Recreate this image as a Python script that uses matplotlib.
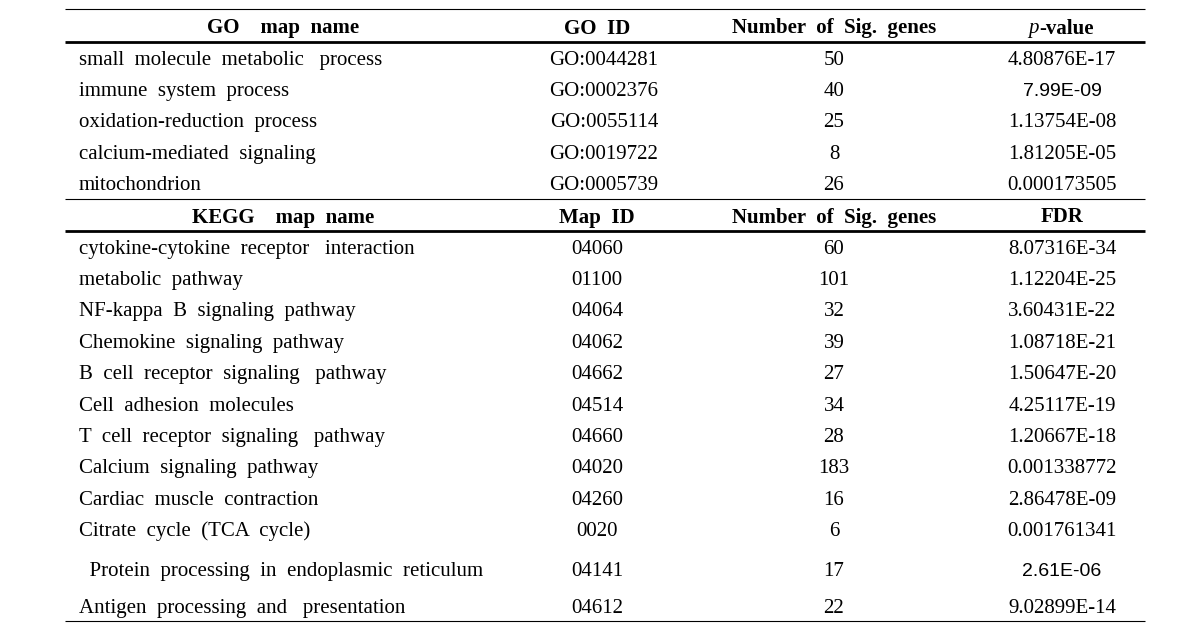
import matplotlib
matplotlib.use('Agg')
import matplotlib.pyplot as plt

# GO section
go_names = ['small molecule metabolic   process', 'immune system process',
            'oxidation-reduction process', 'calcium-mediated signaling', 'mitochondrion']
go_ids = ['GO:0044281', 'GO:0002376', 'GO:0055114', 'GO:0019722', 'GO:0005739']
go_counts = [50, 40, 25, 8, 26]
go_pvals = ['4.80876E-17', '7.99E-09', '1.13754E-08', '1.81205E-05', '0.000173505']

# KEGG section
kegg_names = ['cytokine-cytokine receptor   interaction', 'metabolic pathway',
              'NF-kappa B signaling pathway', 'Chemokine signaling pathway',
              'B cell receptor signaling   pathway', 'Cell adhesion molecules',
              'T cell receptor signaling   pathway', 'Calcium signaling pathway',
              'Cardiac muscle contraction', 'Citrate cycle (TCA cycle)',
              ' Protein processing in endoplasmic reticulum',
              'Antigen processing and   presentation']
kegg_ids = ['04060', '01100', '04064', '04062', '04662', '04514', '04660',
            '04020', '04260', '0020', '04141', '04612']
kegg_counts = [60, 101, 32, 39, 27, 34, 28, 183, 16, 6, 17, 22]
kegg_fdr = ['8.07316E-34', '1.12204E-25', '3.60431E-22', '1.08718E-21',
            '1.50647E-20', '4.25117E-19', '1.20667E-18', '0.001338772',
            '2.86478E-09', '0.001761341', '2.61E-06', '9.02899E-14']

# values typed in a different (sans) font in the source
sans_vals = {'7.99E-09', '2.61E-06'}

# layout (pixel units)
x_name, x_head, x_id, x_cnt, x_val = 79, 283, 597, 834, 1062
x_left, x_right = 65, 1145
go_head_y = 26
go_rows_y = [58, 89, 120, 152, 183]
kegg_head_y = 215
kegg_rows_y = [247, 278, 309, 341, 372, 404, 435, 466, 498, 529, 569, 606]

serif = 'Liberation Serif'
fs = 15

fig = plt.figure(figsize=(11.95, 6.25), dpi=100)
ax = fig.add_axes([0, 0, 1, 1])
ax.set_xlim(0, 1195)
ax.set_ylim(625, 0)
ax.axis('off')

def spaced(s):
    # the source uses wide word gaps, with a few extra-wide ones
    return s.replace('   ', '\0').replace(' ', '  ').replace('\0', '   ')

def put(x, y, s, ha='center', **kw):
    kw.setdefault('family', serif)
    kw.setdefault('fontsize', fs)
    ax.text(x, y, s, ha=ha, va='center_baseline', **kw)

def hline(y, lw):
    ax.plot([x_left, x_right], [y, y], color='black', lw=lw, solid_capstyle='butt')

def header(y, name, idcol, last):
    put(x_head, y, name, weight='bold')
    put(x_id, y, idcol, weight='bold')
    put(x_cnt, y, 'Number  of  Sig.  genes', weight='bold')
    if last == 'p-value':
        put(1039, y, 'p', ha='right', style='italic')
        put(1039, y, '-value', ha='left', weight='bold')
    else:
        put(x_val, y, last, weight='bold')

def rows(ys, names, ids, counts, vals, id_x):
    for y, n, i, c, v in zip(ys, names, ids, counts, vals):
        put(x_name, y, spaced(n), ha='left')
        put(id_x, y, i)
        put(x_cnt, y, str(c))
        if v in sans_vals:
            put(x_val, y, v, family='Liberation Sans', fontsize=fs - 1)
        else:
            put(x_val, y, v)

hline(9, 0.8)
header(go_head_y, 'GO    map  name', 'GO  ID', 'p-value')
hline(42, 2.0)
rows(go_rows_y, go_names, go_ids, go_counts, go_pvals, 604)
hline(199, 0.8)
header(kegg_head_y, 'KEGG    map  name', 'Map  ID', 'FDR')
hline(231, 2.0)
rows(kegg_rows_y, kegg_names, kegg_ids, kegg_counts, kegg_fdr, x_id)
hline(621, 0.8)

fig.savefig('out.png', dpi=100)
